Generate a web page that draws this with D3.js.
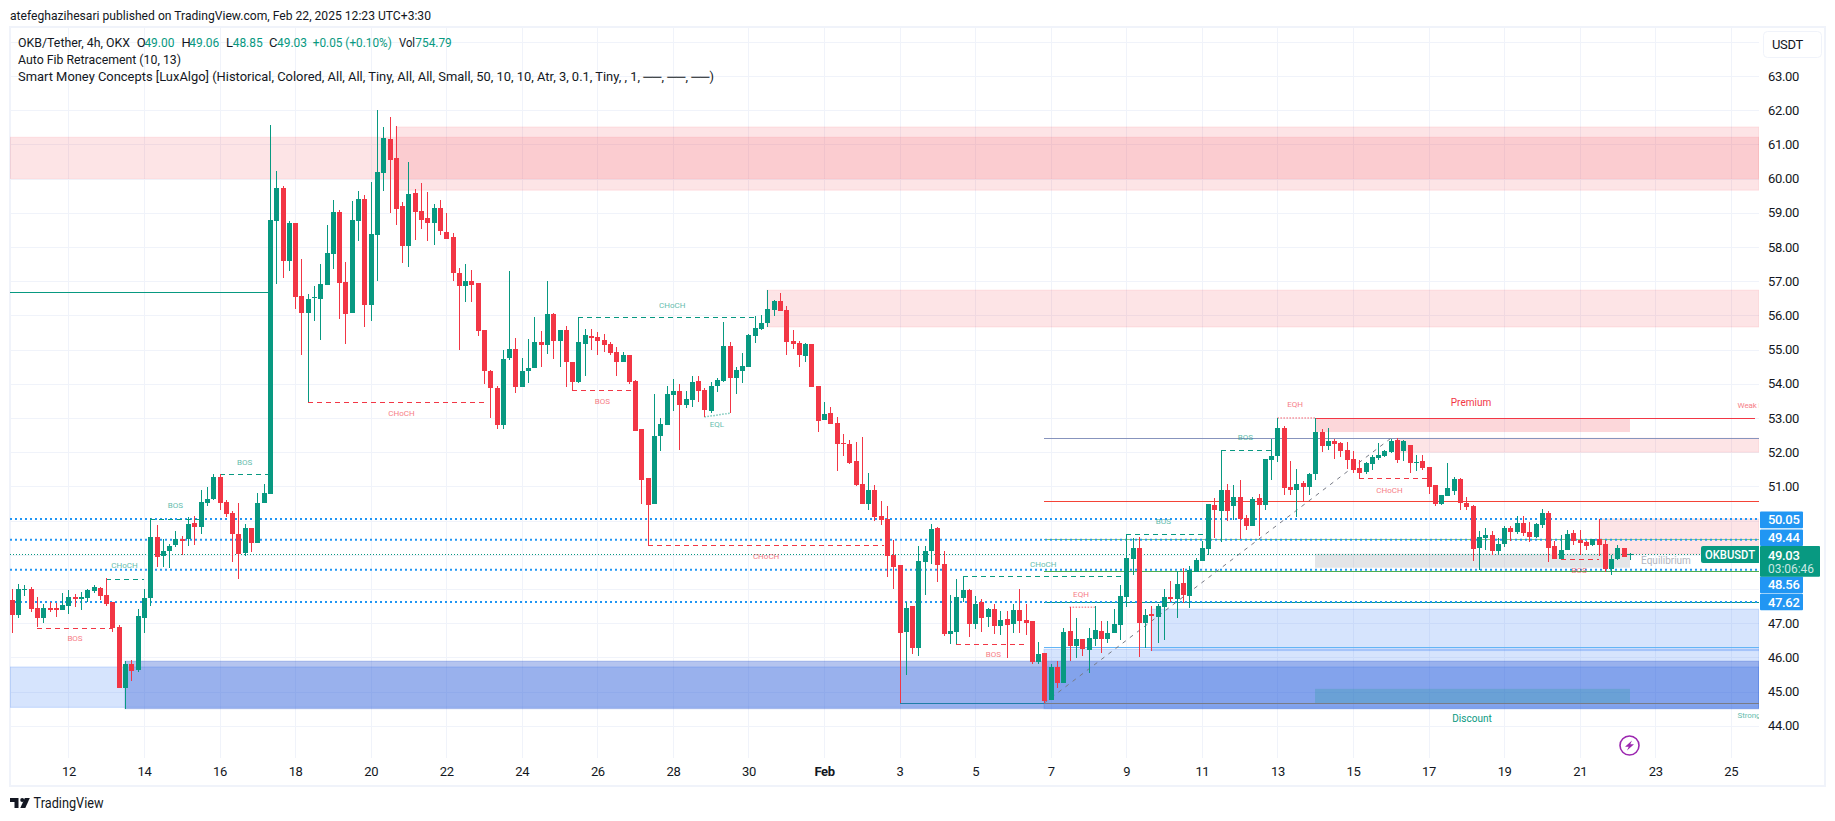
<!DOCTYPE html>
<html><head><meta charset="utf-8">
<script src="https://cdn.jsdelivr.net/npm/d3@7/dist/d3.min.js"></script>
<style>
html,body{margin:0;padding:0;background:#fff;overflow:hidden}
svg{display:block}
text{font-family:Roboto,"Noto Sans",sans-serif;letter-spacing:-.35px}
</style></head><body><svg id="c" width="1835" height="821"></svg>
<script>
const opens=[47.68,47.24,47.98,48.00,47.44,47.15,47.44,47.44,47.39,47.50,
47.77,47.71,47.74,47.94,48.03,47.82,47.62,46.89,45.11,45.81,
45.63,47.15,47.74,49.52,48.97,49.11,49.29,49.46,49.46,49.93,
49.81,50.51,50.63,51.28,50.54,50.22,49.61,49.05,49.78,49.35,
50.52,50.78,58.76,59.73,57.59,58.70,56.57,56.07,56.50,56.48,
56.89,57.80,59.02,56.98,56.07,58.76,59.40,56.30,58.35,60.16,
61.16,60.60,59.20,58.03,59.58,59.05,58.85,58.70,59.14,58.44,
58.29,57.24,56.86,57.01,56.95,55.57,54.37,53.88,52.80,54.75,
55.02,53.91,54.37,54.46,55.22,55.13,56.04,55.25,55.57,54.64,
54.05,55.16,55.40,55.37,55.28,55.16,54.93,54.64,54.84,54.08,
52.68,51.25,50.48,52.47,52.80,53.67,53.79,53.38,53.53,54.08,
53.82,53.20,53.93,54.08,55.10,54.17,54.37,54.49,55.40,55.60,
55.78,56.16,56.42,56.16,55.25,55.19,54.81,55.16,53.93,52.94,
53.15,52.85,52.27,52.24,51.74,51.07,50.49,50.90,50.13,50.05,
48.99,48.70,46.74,47.50,46.27,48.79,49.11,49.78,48.73,46.68,
46.74,47.74,47.97,46.98,47.62,47.18,47.42,46.92,47.12,46.98,
47.39,47.09,47.06,45.87,46.13,44.75,45.72,45.25,46.77,46.33,
46.54,46.22,46.54,46.77,46.54,46.71,46.95,47.77,48.88,49.20,
47.00,47.27,47.18,47.47,47.77,47.71,48.18,47.80,48.50,48.82,
49.17,50.46,50.28,50.90,50.43,50.69,50.07,49.84,50.66,50.45,
51.77,51.89,52.71,50.98,50.89,51.10,50.98,51.36,52.59,52.18,
52.33,52.27,52.06,51.80,51.54,51.42,51.65,51.83,51.89,52.00,
52.36,52.03,52.21,51.68,51.74,51.57,51.04,50.49,50.72,50.86,
51.22,50.51,50.43,49.20,49.49,49.58,49.11,49.32,49.78,49.66,
49.93,49.66,49.52,49.87,50.22,49.26,48.88,49.14,49.64,49.43,
49.37,49.29,49.46,49.32,48.58,48.88,49.20,49.00];
const highs=[48.00,48.15,48.12,48.06,47.77,47.56,47.62,47.59,47.88,47.97,
47.85,47.91,48.00,48.12,48.06,48.31,47.62,46.95,45.89,45.92,
47.42,48.00,50.07,49.87,49.46,49.32,49.70,49.55,50.11,50.14,
50.90,50.98,51.36,51.36,50.60,50.28,50.52,49.90,49.78,50.80,
51.07,61.57,60.22,59.78,58.76,58.70,57.65,56.62,56.86,57.50,
58.64,59.37,59.08,57.56,59.35,59.64,59.52,59.90,62.00,61.51,
61.80,61.54,59.32,60.49,59.70,59.87,59.60,59.26,59.37,59.00,
58.41,57.39,57.50,57.33,56.95,55.57,54.40,53.93,54.99,57.30,
55.34,54.75,55.31,55.95,55.54,57.00,56.07,55.57,55.69,54.64,
55.95,55.60,55.60,55.51,55.46,55.22,55.08,54.93,54.84,54.11,
52.68,51.25,53.70,53.00,53.93,54.14,53.99,53.79,54.23,54.23,
53.88,54.05,54.17,55.81,55.22,54.49,54.90,55.46,55.98,56.01,
56.74,56.45,56.65,56.27,55.57,55.25,55.19,55.16,53.93,53.47,
53.32,53.03,52.53,52.36,52.30,52.44,51.39,51.04,50.57,50.43,
49.43,48.70,47.62,47.50,49.26,49.26,49.90,49.81,49.11,47.82,
48.29,48.37,48.00,47.80,47.71,47.45,47.56,47.36,47.36,47.56,
48.00,47.56,47.06,46.45,46.13,45.81,45.90,46.86,47.47,47.15,
46.54,46.86,47.50,47.06,47.06,47.42,48.12,49.61,49.50,49.52,
47.42,47.50,47.56,48.00,48.23,48.53,48.61,48.67,48.91,49.40,
50.49,50.65,52.05,51.07,51.04,51.19,50.16,50.69,50.78,51.80,
52.38,53.00,52.77,51.74,51.51,51.16,51.38,53.00,52.68,52.71,
52.39,52.30,52.30,52.03,51.77,51.71,51.92,52.27,52.06,52.39,
52.41,52.36,52.21,51.92,51.92,51.57,51.04,50.75,51.68,51.27,
51.25,50.69,50.46,49.69,49.78,49.69,49.49,49.84,49.84,50.13,
50.13,49.96,49.93,50.34,50.28,49.41,49.58,49.73,49.73,49.73,
49.40,49.46,50.05,49.43,49.00,49.29,49.20,49.06];
const lows=[46.70,47.16,47.80,47.34,46.88,47.00,47.33,47.18,47.39,47.27,
47.47,47.39,47.62,47.88,47.68,47.50,46.74,45.11,44.50,45.32,
45.57,46.71,47.50,48.64,48.64,48.61,49.23,48.99,49.26,49.29,
49.61,50.43,50.60,50.31,50.10,48.79,48.29,48.97,49.08,49.35,
50.52,50.78,56.92,57.09,57.30,56.19,54.84,53.48,55.84,55.28,
56.89,57.36,55.89,55.16,56.07,58.18,55.66,55.84,57.00,59.64,
59.00,58.64,57.53,57.41,58.20,58.53,58.18,58.06,58.35,58.23,
57.00,54.99,56.39,56.39,55.39,53.99,53.00,52.68,52.68,54.70,
53.73,53.91,54.02,54.46,54.49,54.87,54.73,54.49,53.91,53.82,
54.02,54.23,54.99,54.84,54.93,54.84,54.23,54.64,53.99,52.62,
50.49,49.28,50.48,52.03,52.80,53.20,52.06,53.29,53.32,53.47,
53.03,53.14,53.76,54.05,53.14,53.70,54.02,54.49,55.19,55.57,
55.66,55.98,56.13,54.84,55.02,54.49,54.64,53.91,52.59,52.94,
52.82,51.45,51.89,51.65,51.01,50.49,50.31,49.99,49.87,48.35,
48.00,44.66,45.49,46.10,46.04,47.82,48.73,48.20,46.63,46.39,
46.38,47.62,46.60,46.83,46.74,46.89,46.68,46.66,45.98,46.71,
46.71,46.66,45.81,45.81,44.66,44.75,45.10,45.25,45.90,45.98,
46.04,45.54,46.33,46.13,46.42,46.71,46.51,47.47,48.41,46.01,
46.28,46.19,46.42,46.51,47.62,47.15,47.59,47.44,48.50,48.82,
48.99,49.49,49.38,49.98,50.02,49.45,49.73,49.84,49.55,50.31,
51.19,51.71,50.75,50.75,50.10,50.54,50.75,51.19,52.00,52.06,
51.80,51.86,51.51,51.39,51.24,51.36,51.48,51.77,51.86,51.98,
51.68,51.74,51.39,51.45,51.48,50.78,50.43,50.45,50.72,50.75,
50.31,50.31,48.82,48.56,49.14,48.99,48.99,49.23,49.40,49.61,
49.55,49.37,49.49,49.78,48.79,48.88,48.88,49.14,49.29,48.99,
49.14,49.26,48.96,48.50,48.41,48.85,48.93,48.85];
const closes=[47.24,48.00,48.00,47.42,47.15,47.44,47.39,47.39,47.53,47.77,
47.71,47.77,47.97,48.06,47.80,47.56,46.86,45.11,45.81,45.60,
47.21,47.74,49.52,48.94,49.11,49.26,49.46,49.40,49.90,49.81,
50.54,50.63,51.28,50.52,50.19,49.61,49.02,49.78,49.35,50.52,
50.81,58.79,59.73,57.59,58.70,56.54,56.07,56.48,56.53,56.92,
57.82,59.02,56.95,56.04,58.79,59.40,56.30,58.38,60.19,61.19,
60.54,59.11,58.03,59.55,59.02,58.79,58.70,59.14,58.47,58.23,
57.24,56.86,57.01,56.89,55.54,54.37,53.88,52.80,54.72,55.02,
53.91,54.37,54.46,55.22,55.13,56.04,55.25,55.57,54.64,54.05,
55.22,55.43,55.34,55.25,55.13,54.90,54.64,54.84,54.05,52.62,
51.20,50.46,52.47,52.82,53.70,53.79,53.38,53.55,54.05,53.79,
53.23,53.93,54.11,55.10,54.17,54.40,54.52,55.43,55.63,55.78,
56.19,56.42,56.13,55.22,55.16,54.84,55.16,53.91,52.91,53.12,
52.82,52.24,52.24,51.68,51.04,50.49,50.90,50.10,50.02,48.96,
48.64,46.71,47.44,46.27,48.82,49.11,49.75,48.70,46.68,46.77,
47.77,47.97,46.98,47.56,47.15,47.42,46.92,47.09,46.95,47.39,
47.06,47.00,45.87,46.10,44.73,45.72,45.25,46.74,46.33,46.54,
46.25,46.57,46.80,46.54,46.71,46.98,47.80,48.91,49.20,47.00,
47.24,47.21,47.50,47.77,47.71,48.15,47.82,48.56,48.85,49.20,
50.49,50.31,50.90,50.28,50.69,50.05,49.84,50.63,50.45,51.80,
51.89,52.71,50.95,50.89,51.07,50.98,51.36,52.59,52.18,52.33,
52.24,52.03,51.77,51.48,51.39,51.68,51.86,51.92,52.03,52.33,
51.77,52.33,51.68,51.71,51.54,50.98,50.49,50.75,50.95,51.22,
50.51,50.40,49.17,49.52,49.58,49.11,49.32,49.78,49.66,49.93,
49.64,49.52,49.90,50.22,49.20,48.88,49.14,49.61,49.40,49.34,
49.26,49.46,49.29,48.58,48.88,49.20,48.93,49.03];

const priceTicks=[44,45,46,47,51,52,53,54,55,56,57,58,59,60,61,62,63];
const gridPrices=d3.range(44,65);
const dateLabels=["12","14","16","18","20","22","24","26","28","30","Feb","3","5","7","9","11","13","15","17","19","21","23","25"];
// zones: [price top, price bottom, first bar, last bar]; null bar = pane edge
const redZones=[[61.21,60.00,null,null],[61.51,59.66,61,null],[56.74,55.66,120,null],[50.05,49.02,252,null],[52.41,52.00,220,null]];
const darkBlueZones=[[45.89,44.50,18,null]];
const blueZones=[[45.72,44.54,null,null],[47.41,46.20,181,null],[46.24,44.50,164,null]];
const premiumZone=[53.00,52.59,207,257];
const equilibriumZone=[49.03,48.62,207,257];
const discountZone=[45.08,44.66,207,257];
const blueDotted=[50.05,49.44,48.56,47.62];
const lastPrice=49.03;
const fibPrices=[52.41,50.58,49.45,48.535,47.62,46.30,44.66];
const fibColors=["#8794bd","#f44336","#81c784","#4caf50","#089981","#64b5f6","#787b86"];
const fibFromBar=164;
// structure breaks: [label, price, from bar, to bar, side, label bar, label price]
const structures=[
["BOS",46.87,4,15.9,"r",10.05,46.53],
["CHoCH",48.30,15,21,"g",17.9,48.67],
["BOS",50.05,22,30,"g",26,50.42],
["BOS",51.36,33,41,"g",37,51.70],
["CHoCH",53.48,47,75.7,"r",61.9,53.13],
["BOS",53.81,89,98.5,"r",93.8,53.47],
["CHoCH",55.94,90,118.5,"g",104.9,56.29],
["CHoCH",49.28,101,138.5,"r",119.8,48.93],
["BOS",46.38,150,161.2,"r",155.9,46.08],
["CHoCH",48.37,151,176.3,"g",163.8,48.70],
["BOS",49.60,177,190,"g",182.9,49.95],
["BOS",52.05,192,200,"g",195.9,52.42],
["CHoCH",51.24,214,224.7,"r",218.8,50.88],
["BOS",48.89,246,252,"r",248.9,48.54]];
// equal highs/lows: [label, price from, price to, from bar, to bar, side, label bar, label price]
const equals=[
["EQL",53.03,53.14,110,114,"g",112,52.79],
["EQH",47.47,47.47,168,172,"r",169.8,47.82],
["EQH",53.00,53.00,201,207,"r",203.8,53.37]];
const strongLow=[44.66,141,164];
const weakHigh=[53.00,207,276.8];
const priorHigh=[56.68,null,41];
const fibDiagonal=[[164,44.66],[219,52.41]];
const legendValues=["49.00","49.06","48.85","49.03"];

const GREEN="#089981",RED="#F23645",BLUE="#2196F3",GRID="#f0f3fa",INK="#131722";
const L=10,R=1759,T=28,B=758;
const svg=d3.select("#c");
const y=d3.scaleLinear().domain([44,63]).range([725.8,76]);
const x=d3.scaleLinear().domain([0,277]).range([11.73,1756]);
const tickBars=dateLabels.map((d,i)=>9+i*12);
const X=b=>b===null?null:Math.round(x(b));

svg.append("defs").append("clipPath").attr("id","pane").append("rect").attr("x",L).attr("y",T).attr("width",R-L).attr("height",B-T);
svg.append("rect").attr("x",10).attr("y",27).attr("width",1815).attr("height",759).attr("fill","none").attr("stroke",GRID).attr("stroke-width",2);
const pane=svg.append("g").attr("clip-path","url(#pane)");

// grid
pane.append("g").selectAll("line").data(gridPrices).join("line")
 .attr("x1",L).attr("x2",R).attr("y1",d=>Math.round(y(d))+.5).attr("y2",d=>Math.round(y(d))+.5).attr("stroke",GRID);
pane.append("g").selectAll("line").data(tickBars).join("line")
 .attr("x1",d=>Math.round(x(d))+.5).attr("x2",d=>Math.round(x(d))+.5).attr("y1",T).attr("y2",B).attr("stroke",GRID);

function zones(data,fill,stroke){
 pane.append("g").selectAll("rect").data(data).join("rect")
  .attr("x",d=>d[2]===null?L:X(d[2]))
  .attr("width",d=>(d[3]===null?R:X(d[3]))-(d[2]===null?L:X(d[2])))
  .attr("y",d=>y(d[0])).attr("height",d=>y(d[1])-y(d[0]))
  .attr("fill",fill).attr("stroke",stroke||"none");
}
zones(blueZones,"rgba(49,121,245,.2)","rgba(49,121,245,.22)");
zones(darkBlueZones,"rgba(24,72,204,.32)","rgba(24,72,204,.25)");
zones(redZones,"rgba(242,54,69,.135)","rgba(242,54,69,.1)");
zones([premiumZone],"rgba(242,54,69,.2)");
zones([equilibriumZone],"rgba(120,123,134,.2)");
zones([discountZone],"rgba(8,153,129,.2)");

// fib levels
pane.append("g").selectAll("line").data(fibPrices).join("line")
 .attr("x1",X(fibFromBar)).attr("x2",R).attr("y1",d=>Math.round(y(d))+.5).attr("y2",d=>Math.round(y(d))+.5)
 .attr("stroke",(d,i)=>fibColors[i]);
pane.append("line").attr("x1",X(fibDiagonal[0][0])).attr("y1",y(fibDiagonal[0][1])).attr("x2",X(fibDiagonal[1][0])).attr("y2",y(fibDiagonal[1][1]))
 .attr("stroke","#787b86").attr("stroke-dasharray","4 5");

// dotted levels
pane.append("g").selectAll("line").data(blueDotted).join("line")
 .attr("x1",L).attr("x2",R).attr("y1",d=>y(d)).attr("y2",d=>y(d))
 .attr("stroke",BLUE).attr("stroke-width",2).attr("stroke-dasharray","2 3");
pane.append("line").attr("x1",L).attr("x2",R).attr("y1",Math.round(y(lastPrice))+.5).attr("y2",Math.round(y(lastPrice))+.5)
 .attr("stroke",GREEN).attr("stroke-dasharray","1 2");

// solid swing lines
const solid=[[priorHigh,GREEN],[strongLow,"#1f7ea8"],[weakHigh,RED]];
pane.append("g").selectAll("line").data(solid).join("line")
 .attr("x1",d=>d[0][1]===null?L:X(d[0][1])).attr("x2",d=>Math.round(x(d[0][2])))
 .attr("y1",d=>Math.round(y(d[0][0]))+.5).attr("y2",d=>Math.round(y(d[0][0]))+.5).attr("stroke",d=>d[1]);

// structure
const sc=s=>s==="g"?GREEN:RED;
pane.append("g").selectAll("line").data(structures).join("line")
 .attr("x1",d=>Math.round(x(d[2]))).attr("x2",d=>Math.round(x(d[3])))
 .attr("y1",d=>Math.round(y(d[1]))+.5).attr("y2",d=>Math.round(y(d[1]))+.5)
 .attr("stroke",d=>sc(d[4])).attr("stroke-dasharray","5 4");
pane.append("g").selectAll("line").data(equals).join("line")
 .attr("x1",d=>x(d[3])).attr("x2",d=>x(d[4])).attr("y1",d=>y(d[1])).attr("y2",d=>y(d[2]))
 .attr("stroke",d=>sc(d[5])).attr("stroke-width",1.5).attr("stroke-dasharray","1.5 1.5").attr("opacity",.55);

// candles
const bars=opens.map((o,i)=>({i,o,h:highs[i],l:lows[i],c:closes[i]}));
const candle=pane.append("g").selectAll("g").data(bars).join("g").attr("fill",d=>d.c>=d.o?GREEN:RED).attr("shape-rendering","crispEdges");
candle.append("rect").attr("x",d=>X(d.i)).attr("width",1).attr("y",d=>y(d.h)).attr("height",d=>y(d.l)-y(d.h));
candle.append("rect").attr("x",d=>X(d.i)-2).attr("width",5)
 .attr("y",d=>y(Math.max(d.o,d.c))).attr("height",d=>Math.max(1,Math.abs(y(d.o)-y(d.c))));

// small structure labels
const tiny=[...structures.map(d=>[d[0],d[5],d[6],d[4]]),...equals.map(d=>[d[0],d[6],d[7],d[5]])];
pane.append("g").selectAll("text").data(tiny).join("text").text(d=>d[0])
 .attr("x",d=>x(d[1])).attr("y",d=>y(d[2])).attr("text-anchor","middle").attr("dominant-baseline","middle")
 .attr("font-size",8).attr("fill",d=>sc(d[3])).attr("opacity",.65).style("letter-spacing","0");

// zone labels
const zoneLabels=[["Premium",1471,403,RED,10],["Discount",1472,719,GREEN,10],["Equilibrium",1666,561,"#b2b5be",10]];
pane.append("g").selectAll("text").data(zoneLabels).join("text").text(d=>d[0])
 .attr("x",d=>d[1]).attr("y",d=>d[2]).attr("text-anchor","middle").attr("dominant-baseline","middle")
 .attr("fill",d=>d[3]).attr("font-size",d=>d[4]).style("letter-spacing","0");
const edgeLabels=[["Weak High",405.5,RED],["Strong Low",715.5,GREEN]];
pane.append("g").selectAll("text").data(edgeLabels).join("text").text(d=>d[0])
 .attr("x",1737.5).attr("y",d=>d[1]).attr("dominant-baseline","middle").attr("font-size",8).attr("fill",d=>d[2]).attr("opacity",.65).style("letter-spacing","-.1px");

// symbol tag
pane.append("rect").attr("x",1701).attr("y",546).attr("width",60).attr("height",17).attr("rx",2).attr("fill",GREEN);
svg.append("text").text("OKBUSDT").attr("x",1705).attr("y",559).attr("fill","#fff").attr("font-size",13).attr("font-weight",500)
 .attr("textLength",50).attr("lengthAdjust","spacingAndGlyphs").style("letter-spacing","0");

// lightning
const bolt=pane.append("g").attr("transform","translate(1629.5,745.5)");
bolt.append("circle").attr("r",9.5).attr("fill","#fff").attr("stroke","#9c27b0").attr("stroke-width",1.6);
bolt.append("path").attr("d","M2.5,-5 L-4.5,1.2 L-0.8,1.2 L-2.5,5 L4.5,-1.2 L0.8,-1.2 Z").attr("fill","#9c27b0");

// axes
const yAxis=svg.append("g").attr("transform",`translate(${R},0)`)
 .call(d3.axisRight(y).tickValues(priceTicks).tickFormat(d3.format(".2f")).tickSize(0).tickPadding(9));
yAxis.select(".domain").remove();
const xAxis=svg.append("g").attr("transform",`translate(0,${B})`)
 .call(d3.axisBottom(x).tickValues(tickBars).tickFormat((d,i)=>dateLabels[i]).tickSize(0).tickPadding(9));
xAxis.select(".domain").remove();
[yAxis,xAxis].forEach(a=>a.attr("font-family",null).attr("font-size",null).selectAll("text").attr("font-size",13).attr("fill",INK));
xAxis.selectAll("text").filter((d,i)=>dateLabels[i]==="Feb").attr("font-weight",700);

// price labels
const labelNudge=[1,-2,15,0];
const pl=svg.append("g");
blueDotted.forEach((p,i)=>{
 const cy=y(p)+labelNudge[i];
 pl.append("rect").attr("x",1760).attr("y",cy-8.3).attr("width",43).attr("height",16.6).attr("rx",1).attr("fill",BLUE);
 pl.append("text").text(d3.format(".2f")(p)).attr("x",1768).attr("y",cy+4.6).attr("fill","#fff").attr("font-size",13).attr("font-weight",500);
});
pl.append("rect").attr("x",1760).attr("y",546).attr("width",60).attr("height",30.7).attr("rx",1).attr("fill",GREEN);
pl.append("text").text(d3.format(".2f")(lastPrice)).attr("x",1768).attr("y",559.6).attr("fill","#fff").attr("font-size",13).attr("font-weight",500);
pl.append("text").text("03:06:46").attr("x",1768).attr("y",573).attr("fill","#fff").attr("fill-opacity",.8).attr("font-size",13)
 .attr("textLength",46).attr("lengthAdjust","spacingAndGlyphs").style("letter-spacing","0");

// USDT button
svg.append("rect").attr("x",1763.5).attr("y",31.5).attr("width",58).attr("height",26).attr("rx",4).attr("fill","#fff").attr("stroke",GRID);
svg.append("text").text("USDT").attr("x",1772).attr("y",49).attr("font-size",13).attr("fill",INK);

// header & legend
function T_(s,xx,yy,c,len){
 const t=svg.append("text").text(s).attr("x",xx).attr("y",yy).attr("fill",c||INK).attr("font-size",13);
 if(len) t.attr("textLength",len).attr("lengthAdjust","spacingAndGlyphs").style("letter-spacing","0");
 return t;
}
T_("atefeghazihesari published on TradingView.com, Feb 22, 2025 12:23 UTC+3:30",10,20,INK,421);
T_("OKB/Tether, 4h, OKX",18,46.5,INK,112);
const lg=[["O",136.7,0],["H",181.6,1],["L",226,2],["C",269,3]];
const lgX=[144.4,189.3,232.7,277];
lg.forEach((d,i)=>{T_(d[0],d[1],46.5,INK);T_(legendValues[d[2]],lgX[i],46.5,GREEN,30);});
T_("+0.05 (+0.10%)",312.8,46.5,GREEN,79);
T_("Vol",399,46.5,INK,16);
T_("754.79",415.3,46.5,GREEN,36.5);
T_("Auto Fib Retracement (10, 13)",18,63.5,INK,163);
T_("Smart Money Concepts [LuxAlgo] (Historical, Colored, All, All, Tiny, All, All, Small, 50, 10, 10, Atr, 3, 0.1, Tiny, , 1, ──, ──, ──)",18,80.5,INK,696);

// footer logo
const lo=svg.append("g").attr("transform","translate(10,798)").attr("fill",INK);
lo.append("path").attr("d","M0,0H8.5V10H4.5V4H0Z");
lo.append("circle").attr("cx",12.2).attr("cy",2).attr("r",2);
lo.append("path").attr("d","M14.8,0H19.8L15.3,10H10.3Z");
T_("TradingView",33.6,808,INK,70).attr("font-size",14);
</script></body></html>
